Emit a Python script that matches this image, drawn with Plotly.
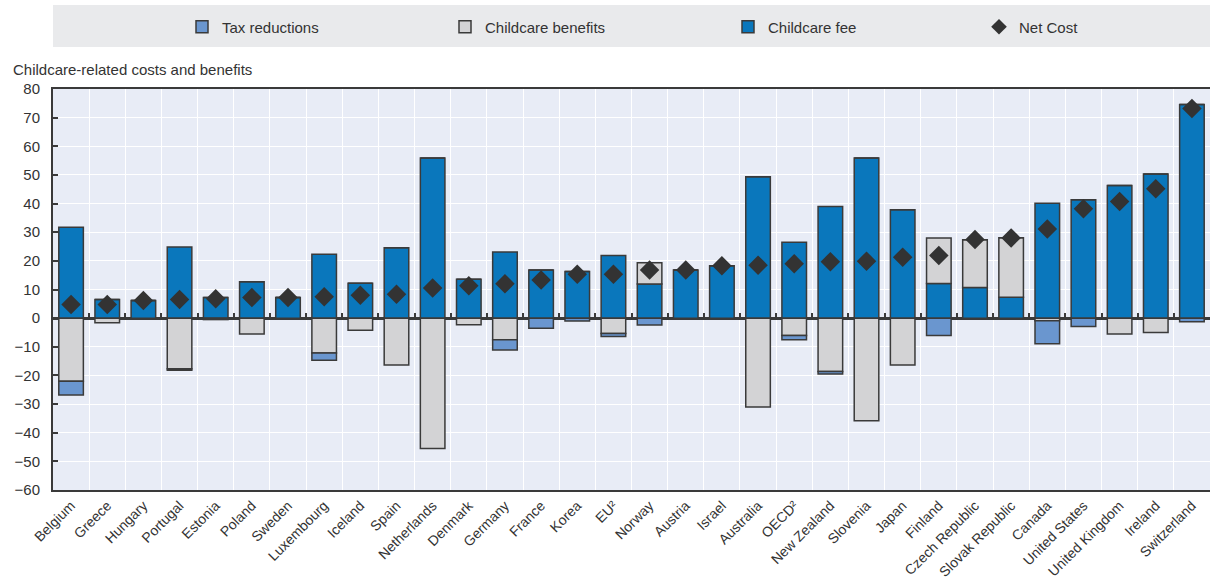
import plotly.graph_objects as go

countries = ["Belgium", "Greece", "Hungary", "Portugal", "Estonia", "Poland", "Sweden",
             "Luxembourg", "Iceland", "Spain", "Netherlands", "Denmark", "Germany", "France",
             "Korea", "EU²", "Norway", "Austria", "Israel", "Australia", "OECD²", "New Zealand",
             "Slovenia", "Japan", "Finland", "Czech Republic", "Slovak Republic", "Canada",
             "United States", "United Kingdom", "Ireland", "Switzerland"]

childcare_fee = [31.7, 6.5, 6.2, 24.8, 7.2, 12.7, 7.2, 22.3, 12.2, 24.6, 55.9, 13.6, 23.1, 16.8,
                 16.3, 21.9, 11.9, 16.8, 18.3, 49.4, 26.5, 39.0, 55.9, 37.8, 12.1, 10.7, 7.3,
                 40.1, 41.3, 46.3, 50.3, 74.6]
childcare_benefits = [-22.0, -1.6, 0, -17.7, -0.5, -5.5, 0, -12.2, -4.2, -16.4, -45.5, -2.3, -7.5,
                      0, 0, -5.4, 7.4, 0, 0, -31.0, -6.1, -18.6, -35.8, -16.4, 15.9, 16.7, 20.8,
                      -0.9, 0, -5.5, -5.0, 0]
tax_reductions = [-4.8, 0, 0, -0.5, 0, 0, 0, -2.5, 0, 0, 0, 0, -3.6, -3.5, -1.0, -1.0, -2.4, 0, 0,
                  0, -1.4, -0.9, 0, 0, -6.1, 0, 0, -8.0, -2.9, 0, 0, -1.3]
net_cost = [4.8, 4.8, 6.2, 6.5, 6.8, 7.2, 7.2, 7.5, 8.0, 8.3, 10.5, 11.3, 12.0, 13.3, 15.3, 15.3,
            16.8, 16.8, 18.3, 18.5, 19.0, 19.7, 19.9, 21.3, 21.9, 27.5, 28.0, 31.1, 38.2, 40.7,
            45.2, 73.2]

y_ticks = [80, 70, 60, 50, 40, 30, 20, 10, 0, -10, -20, -30, -40, -50, -60]

FONT = "Liberation Sans, Arial, sans-serif"
TXT = "#333333"
EDGE = "#3a3a3a"

W, H = 1210, 583
L, R, T, B = 53, 0, 89, 93
PH = H - T - B

fig = go.Figure()
fig.add_trace(go.Bar(x=countries, y=childcare_fee, name="Childcare fee", legend="legend3",
                     marker=dict(color="#0a77bc", line=dict(color=EDGE, width=1.5))))
fig.add_trace(go.Bar(x=countries, y=childcare_benefits, name="Childcare benefits", legend="legend2",
                     marker=dict(color="#d3d3d5", line=dict(color=EDGE, width=1.5))))
fig.add_trace(go.Bar(x=countries, y=tax_reductions, name="Tax reductions", legend="legend",
                     marker=dict(color="#6a96cf", line=dict(color=EDGE, width=1.5))))
fig.add_trace(go.Scatter(x=countries, y=net_cost, name="Net Cost", mode="markers", legend="legend4",
                         marker=dict(symbol="diamond", size=15, color="#333333")))
# helper trace for the boundary ticks on the zero line
fig.add_trace(go.Scatter(x=list(range(len(countries))), y=[None] * len(countries), xaxis="x2",
                         showlegend=False, hoverinfo="skip", mode="markers"))

ymin, ymax = y_ticks[-1], y_ticks[0]
n = len(countries)


def leg(px, sizing="trace"):
    return dict(orientation="h", xref="container", yref="container",
                x=px / W, y=1 - 27 / H, xanchor="left", yanchor="middle",
                bgcolor="rgba(0,0,0,0)", font=dict(family=FONT, size=15, color=TXT),
                itemclick=False, itemdoubleclick=False, itemsizing=sizing)


fig.update_layout(
    width=W, height=H,
    margin=dict(l=L, r=R, t=T, b=B, autoexpand=False),
    paper_bgcolor="white",
    plot_bgcolor="#e8ecf6",
    barmode="relative",
    bargap=0.32,
    font=dict(family=FONT, size=15, color=TXT),
    showlegend=True,
    legend=leg(182), legend2=leg(445), legend3=leg(728), legend4=leg(979, "constant"),
    xaxis=dict(type="category", tickson="boundaries", showgrid=True, gridcolor="white",
               gridwidth=1, ticks="", tickangle=-45, showline=True, linecolor=EDGE,
               linewidth=2, mirror=True, range=[-0.5, n - 0.5], automargin=False,
               tickfont=dict(family=FONT, size=14, color=TXT)),
    xaxis2=dict(overlaying="x", anchor="free", position=(0 - ymin) / (ymax - ymin),
                range=[-0.5, n - 0.5], tickmode="array",
                tickvals=[i + 0.5 for i in range(n - 1)], showticklabels=False,
                ticks="inside", ticklen=5, tickwidth=1.5, tickcolor=EDGE,
                showgrid=False, zeroline=False, showline=False),
    yaxis=dict(range=[ymin, ymax], tickmode="array", tickvals=y_ticks, showgrid=True,
               gridcolor="white", gridwidth=1, zeroline=True, zerolinecolor=EDGE,
               zerolinewidth=2.5, showline=True, linecolor=EDGE, linewidth=2,
               ticks="inside", ticklen=5, tickcolor=EDGE, tickwidth=1.5, automargin=False,
               ticklabelstandoff=8,
               tickfont=dict(family=FONT, size=15, color=TXT)),
    shapes=[dict(type="rect", xref="paper", yref="paper", x0=0, x1=1,
                 y0=1 + (T - 47) / PH, y1=1 + (T - 5) / PH,
                 fillcolor="#e9eaec", line=dict(width=0), layer="below")],
    annotations=[dict(text="Childcare-related costs and benefits", xref="paper", yref="paper",
                      x=(11 - L) / (W - L - R), y=1 + (T - 70) / PH, xanchor="left",
                      yanchor="middle", showarrow=False,
                      font=dict(family=FONT, size=15, color=TXT))],
)

fig.write_html("out.html", post_script="document.body.style.margin='0';",
               config={"displayModeBar": False})
